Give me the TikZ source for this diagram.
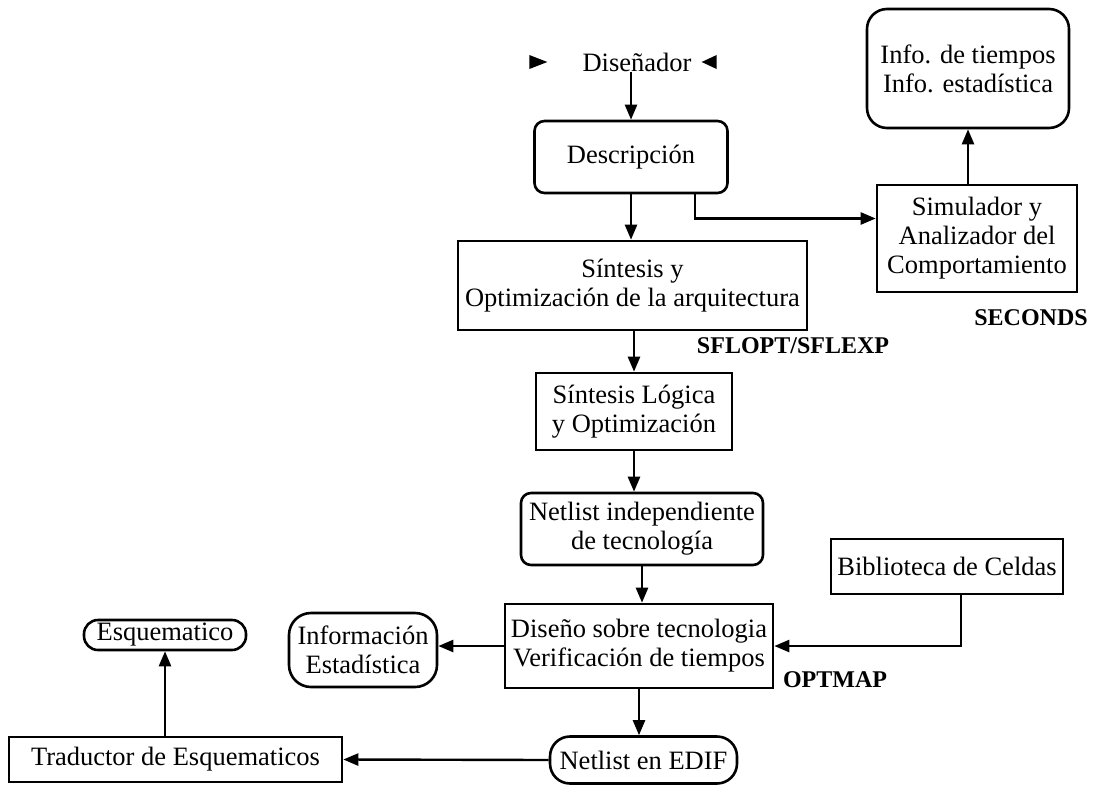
\documentclass[tikz,border=0pt]{standalone}
\usepackage{fontspec}
\setmainfont{Liberation Serif}
\usetikzlibrary{arrows.meta}
\newcommand\bodyfs{\fontsize{26.5}{29}\selectfont}
\newcommand\tagfs{\fontsize{24}{28}\selectfont\bfseries}
\begin{document}
\begin{tikzpicture}[x=1pt,y=-1pt,
  box/.style={draw, line width=2.6pt, align=center, inner sep=0pt, font=\bodyfs},
  rbox/.style={box, rounded corners=10pt},
  plain/.style={inner sep=0pt, font=\bodyfs},
  arr/.style={line width=2.4pt, -{Triangle[length=15pt,width=12pt]}},
  tag/.style={inner sep=0pt, font=\tagfs}]
\useasboundingbox (0,0) rectangle (1107,784);

% flow nodes
\node[plain] (dis) at (637,62) {Diseñador};
\node[rbox, minimum width=193pt, minimum height=72pt] (desc) at (631,157) {Descripción};
\node[rbox, rounded corners=20pt, minimum width=202pt, minimum height=119pt] (info) at (968,68.5)
  {Info. de tiempos\\Info. estadística};
\node[box, minimum width=200pt, minimum height=107pt] (sim) at (977,238.5)
  {Simulador y\\Analizador del\\Comportamiento};
\node[box, minimum width=349pt, minimum height=89pt] (sint) at (632.5,285.5)
  {Síntesis y\\Optimización de la arquitectura};
\node[box, minimum width=196pt, minimum height=77pt] (slog) at (634,411.5)
  {Síntesis Lógica\\y Optimización};
\node[rbox, minimum width=242pt, minimum height=72pt] (net) at (642,529)
  {Netlist independiente\\de tecnología};
\node[box, minimum width=232pt, minimum height=55pt] (bib) at (947,566.5) {Biblioteca de Celdas};
\node[box, minimum width=268pt, minimum height=84pt] (dso) at (639,646)
  {Diseño sobre tecnologia\\Verificación de tiempos};
\node[rbox, rounded corners=22pt, minimum width=148pt, minimum height=74pt] (inf) at (363,650)
  {Información\\Estadística};
\node[rbox, rounded corners=14pt, minimum width=162pt, minimum height=30pt] (esq) at (165,635) {Esquematico};
\node[box, minimum width=333pt, minimum height=45pt] (trad) at (175.5,759.5) {Traductor de Esquematicos};
\node[rbox, rounded corners=20pt, minimum width=187pt, minimum height=47pt] (edif) at (643.5,760) {Netlist en EDIF};

% tool labels
\node[tag] (sec) at (1031,318) {SECONDS};
\node[tag] (sfl) at (793,346) {SFLOPT/SFLEXP};
\node[tag] (opt) at (835,680) {OPTMAP};

% markers beside the designer
\fill ([xshift=-35pt]dis.west) -- ++(-18pt,-7pt) -- ++(0,14pt) -- cycle;
\fill ([xshift=10pt]dis.east) -- ++(15pt,-7pt) -- ++(0,14pt) -- cycle;

% connectors
\draw[arr] (dis.south -| desc.north) -- (desc.north);
\draw[arr] (desc.south) -- (desc.south |- sint.north);
\draw[arr] ([xshift=64pt]desc.south) |- ([yshift=20pt]sim.west);
\draw[arr] (info.south |- sim.north) -- (info.south);
\draw[arr] (slog.north |- sint.south) -- (slog.north);
\draw[arr] (slog.south) -- (slog.south |- net.north);
\draw[arr] (net.south) -- (net.south |- dso.north);
\draw[arr] ([xshift=14pt]bib.south) |- (dso.east);
\draw[arr] (dso.west) -- (dso.west -| inf.east);
\draw[arr] (dso.south) -- (dso.south |- edif.north);
\draw[arr] (edif.west) -- (trad.east);
\draw[arr] (trad.north -| esq.south) -- (esq.south);
\end{tikzpicture}
\end{document}
